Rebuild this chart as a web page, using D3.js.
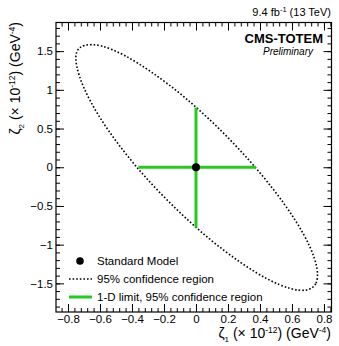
<!DOCTYPE html>
<html>
<head>
<meta charset="utf-8">
<script src="https://cdn.jsdelivr.net/npm/d3@7"></script>
<style>
  body { margin: 0; background: #fff; }
  text { font-family: "Liberation Sans", Arial, sans-serif; fill: #000; }
</style>
</head>
<body>
<svg id="chart"></svg>
<script>
// 95% CL contour (zeta1, zeta2)
const contourX = [0.693, 0.750, 0.756, 0.711, 0.617, 0.481, 0.312, 0.122, -0.076, -0.270, -0.444, -0.589,
                  -0.693, -0.745, -0.745, -0.700, -0.610, -0.478, -0.312, -0.122, 0.076, 0.270, 0.444, 0.589];
const contourY = [-1.585, -1.496, -1.305, -1.024, -0.674, -0.279, 0.136, 0.542, 0.911, 1.217, 1.441, 1.566,
                  1.575, 1.490, 1.305, 1.024, 0.674, 0.279, -0.136, -0.542, -0.911, -1.217, -1.441, -1.566];
// 1-D limits
const limitX = [-0.36, 0.375];
const limitY = [-0.78, 0.77];
const smPoint = [0, 0];
const xTicks = [-0.8, -0.6, -0.4, -0.2, 0, 0.2, 0.4, 0.6, 0.8];
const yTicks = [-1.5, -1, -0.5, 0, 0.5, 1, 1.5];
const legendLabels = ["Standard Model", "95% confidence region", "1-D limit, 95% confidence region"];

const width = 339, height = 346;
const margin = { top: 22.5, right: 7.5, bottom: 34, left: 56 };
const innerWidth = width - margin.left - margin.right;
const innerHeight = height - margin.top - margin.bottom;
const green = "#1fcc1f";

const svg = d3.select("#chart").attr("width", width).attr("height", height);
const g = svg.append("g").attr("transform", `translate(${margin.left}, ${margin.top})`);

const xScale = d3.scaleLinear().domain([-0.875, 0.847]).range([0, innerWidth]);
const yScale = d3.scaleLinear().domain([-1.87, 1.87]).range([innerHeight, 0]);

const fmt = d => d === 0 ? "0" : d3.format("")(d).replace("-", "\u2212");
const xMinor = d3.range(-0.84, 0.841, 0.04).map(d => +d.toFixed(2));
const yMinor = d3.range(-1.8, 1.81, 0.1).map(d => +d.toFixed(2));

function ticks(axisGen, scale, major, minor, transform, lab) {
  const a = g.append("g").attr("transform", transform);
  a.call(axisGen(scale).tickValues(minor).tickSize(-4).tickFormat(""));
  const b = g.append("g").attr("transform", transform);
  b.call(axisGen(scale).tickValues(major).tickSize(-8).tickPadding(lab ? 3 : 0).tickFormat(lab ? fmt : ""));
  [a, b].forEach(s => {
    s.select(".domain").remove();
    s.selectAll("line").attr("stroke", "#000");
    s.selectAll("text").attr("font-size", 11.5).attr("fill", "#222");
  });
}
ticks(d3.axisBottom, xScale, xTicks, xMinor, `translate(0, ${innerHeight})`, true);
ticks(d3.axisTop, xScale, xTicks, xMinor, "translate(0, 0)", false);
ticks(d3.axisLeft, yScale, yTicks, yMinor, "translate(0, 0)", true);
ticks(d3.axisRight, yScale, yTicks, yMinor, `translate(${innerWidth}, 0)`, false);

g.append("rect").attr("width", innerWidth).attr("height", innerHeight)
  .attr("fill", "none").attr("stroke", "#000").attr("stroke-width", 1.2);

// contour
const pts = contourX.map((x, i) => [xScale(x), yScale(contourY[i])]);
g.append("path")
  .attr("d", d3.line().curve(d3.curveCardinalClosed)(pts))
  .attr("fill", "none").attr("stroke", "#000")
  .attr("stroke-width", 1.6).attr("stroke-dasharray", "1.6 2");

// 1-D limits
g.append("line")
  .attr("x1", xScale(limitX[0])).attr("x2", xScale(limitX[1]))
  .attr("y1", yScale(0)).attr("y2", yScale(0))
  .attr("stroke", green).attr("stroke-width", 3);
g.append("line")
  .attr("x1", xScale(0)).attr("x2", xScale(0))
  .attr("y1", yScale(limitY[0])).attr("y2", yScale(limitY[1]))
  .attr("stroke", green).attr("stroke-width", 3);

g.append("circle")
  .attr("cx", xScale(smPoint[0])).attr("cy", yScale(smPoint[1]))
  .attr("r", 4).attr("fill", "#000");

// legend
const lg = svg.append("g");
const ly = [261, 279, 297];
lg.append("circle").attr("cx", 80).attr("cy", ly[0]).attr("r", 3.8).attr("fill", "#000");
lg.append("line").attr("x1", 69).attr("x2", 92).attr("y1", ly[1]).attr("y2", ly[1])
  .attr("stroke", "#000").attr("stroke-width", 1.6).attr("stroke-dasharray", "1.6 2");
lg.append("line").attr("x1", 69).attr("x2", 92).attr("y1", ly[2]).attr("y2", ly[2])
  .attr("stroke", green).attr("stroke-width", 3);
lg.selectAll("text.leg").data(legendLabels).join("text")
  .attr("class", "leg")
  .attr("x", 97).attr("y", (d, i) => ly[i] + 4)
  .attr("font-size", 11.5).attr("fill", "#222")
  .text(d => d);

// header
const hdr = svg.append("text").attr("x", 331).attr("y", 16).attr("text-anchor", "end")
  .attr("font-size", 11).attr("fill", "#222");
hdr.append("tspan").text("9.4 fb");
hdr.append("tspan").attr("font-size", 7.5).attr("dy", -4).text("-1");
hdr.append("tspan").attr("dy", 4).text(" (13 TeV)");

svg.append("text").attr("x", 323).attr("y", 43).attr("text-anchor", "end")
  .attr("font-size", 13).attr("font-weight", "bold").text("CMS-TOTEM");
svg.append("text").attr("x", 313).attr("y", 55).attr("text-anchor", "end")
  .attr("font-size", 10).attr("font-style", "italic").attr("fill", "#222").text("Preliminary");

// axis titles
function axisTitle(sel, sub) {
  sel.append("tspan").text("\u03b6");
  sel.append("tspan").attr("font-size", 8).attr("dy", 4).text(sub);
  sel.append("tspan").attr("dy", -4).text(" (\u00d7 10");
  sel.append("tspan").attr("font-size", 8.5).attr("dy", -5).text("-12");
  sel.append("tspan").attr("dy", 5).text(") (GeV");
  sel.append("tspan").attr("font-size", 8.5).attr("dy", -5).text("-4");
  sel.append("tspan").attr("dy", 5).text(")");
}
const xt = svg.append("text").attr("x", 331).attr("y", 338).attr("text-anchor", "end")
  .attr("font-size", 14).attr("fill", "#222");
axisTitle(xt, "1");
const yt = svg.append("text").attr("transform", "translate(20, 22) rotate(-90)")
  .attr("text-anchor", "end").attr("font-size", 14).attr("fill", "#222");
axisTitle(yt, "2");
</script>
</body>
</html>
